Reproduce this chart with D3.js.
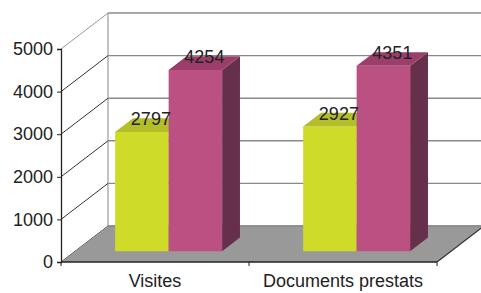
<!DOCTYPE html>
<html>
<head>
<meta charset="utf-8">
<script src="https://cdn.jsdelivr.net/npm/d3@7"></script>
<style>
  body { margin: 0; background: #fff; }
  svg text { font-family: "Liberation Sans", Arial, sans-serif; fill: #222; }
</style>
</head>
<body>
<div id="chart"></div>
<script>
// data
let categories = ["Visites", "Documents prestats"];
let seriesNames = ["serie1", "serie2"];
let serie1 = [2797, 2927];
let serie2 = [4254, 4351];
let yTicks = [0, 1000, 2000, 3000, 4000, 5000];

let frontColors = { serie1: "#cedb28", serie2: "#bb5082" };
let topColors = { serie1: "#b4bd2a", serie2: "#9b3f6a" };
let sideColors = { serie1: "#9aa220", serie2: "#66304a" };

let width = 481, height = 293;
let svg = d3.select("#chart").append("svg")
  .attr("width", width).attr("height", height);

// 3d depth offset (full depth of the box)
let depthX = 47, depthY = -36;
let barFront = 0.3, barBack = 0.68;

let x = d3.scaleBand().domain(categories).range([61, 437]);
let xInner = d3.scaleBand().domain(seriesNames)
  .range([x.bandwidth() * 0.213, x.bandwidth() * 0.782]);
let y = d3.scaleLinear().domain([0, 5000]).range([262, 49]);

let pt = function (px, py, d) {
  return [px + d * depthX, py + d * depthY];
};
let poly = function (pts) {
  return pts.map((p) => p.join(",")).join(" ");
};

//
//	walls
//
let x0 = x.range()[0], x1 = x.range()[1];

// back wall horizontal gridlines
svg.selectAll(".grid").data(yTicks).enter().append("line")
  .attr("x1", (d) => pt(x0, y(d), 1)[0])
  .attr("y1", (d) => pt(x0, y(d), 1)[1])
  .attr("x2", (d) => pt(x1, y(d), 1)[0])
  .attr("y2", (d) => pt(x1, y(d), 1)[1])
  .attr("stroke", "#8a8a8a").attr("stroke-width", 1.4);

// back wall left edge
svg.append("line")
  .attr("x1", pt(x0, y(0), 1)[0]).attr("y1", pt(x0, y(0), 1)[1])
  .attr("x2", pt(x0, y(5000), 1)[0]).attr("y2", pt(x0, y(5000), 1)[1])
  .attr("stroke", "#999").attr("stroke-width", 1.2);

// left wall diagonals
svg.selectAll(".diag").data(yTicks).enter().append("line")
  .attr("x1", x0).attr("y1", (d) => y(d))
  .attr("x2", (d) => pt(x0, y(d), 1)[0])
  .attr("y2", (d) => pt(x0, y(d), 1)[1])
  .attr("stroke", (d) => (d === 5000 ? "#999" : "#333"))
  .attr("stroke-width", 1);

// floor
svg.append("polygon")
  .attr("points", poly([pt(x0, y(0), 0), pt(x0, y(0), 1), pt(x1, y(0), 1), pt(x1, y(0), 0)]))
  .attr("fill", "#999999");
svg.append("line")
  .attr("x1", pt(x0, y(0), 1)[0]).attr("y1", pt(x0, y(0), 1)[1])
  .attr("x2", pt(x1, y(0), 1)[0]).attr("y2", pt(x1, y(0), 1)[1])
  .attr("stroke", "#808080").attr("stroke-width", 1.2);
svg.append("line")
  .attr("x1", x1).attr("y1", y(0))
  .attr("x2", pt(x1, y(0), 1)[0]).attr("y2", pt(x1, y(0), 1)[1])
  .attr("stroke", "#333").attr("stroke-width", 1.2);

//
//	bars
//
let bars = [];
categories.forEach((c, i) => {
  bars.push({ cat: c, serie: "serie1", value: serie1[i] });
  bars.push({ cat: c, serie: "serie2", value: serie2[i] });
});

bars.forEach((b) => {
  let bx0 = x(b.cat) + xInner(b.serie);
  let bx1 = bx0 + xInner.bandwidth();
  let yb = y(0), yt = y(b.value);
  let g = svg.append("g");
  // side
  g.append("polygon")
    .attr("points", poly([pt(bx1, yb, barFront), pt(bx1, yb, barBack), pt(bx1, yt, barBack), pt(bx1, yt, barFront)]))
    .attr("fill", sideColors[b.serie]);
  // front
  g.append("polygon")
    .attr("points", poly([pt(bx0, yb, barFront), pt(bx1, yb, barFront), pt(bx1, yt, barFront), pt(bx0, yt, barFront)]))
    .attr("fill", frontColors[b.serie]);
  // top
  g.append("polygon")
    .attr("points", poly([pt(bx0, yt, barFront), pt(bx1, yt, barFront), pt(bx1, yt, barBack), pt(bx0, yt, barBack)]))
    .attr("fill", topColors[b.serie]);
});

// value labels
svg.selectAll(".val").data(bars).enter().append("text")
  .attr("x", (d) => pt(x(d.cat) + xInner(d.serie) + xInner.bandwidth() / 2, 0, barFront)[0] + 9)
  .attr("y", (d) => pt(0, y(d.value), barFront)[1] - 7)
  .attr("text-anchor", "middle")
  .attr("font-size", 18)
  .text((d) => d.value);

//
//	axes
//
let yAxis = svg.append("g")
  .attr("transform", "translate(" + x0 + ",0)")
  .call(d3.axisLeft(y).tickValues(yTicks).tickSize(4).tickPadding(4).tickFormat(d3.format("d")));
yAxis.selectAll("text").attr("font-size", 18).attr("fill", "#222")
  .style("font-family", "'Liberation Sans', Arial, sans-serif");
yAxis.select(".domain").attr("stroke", "#222").attr("stroke-width", 1.3);
yAxis.selectAll(".tick line").attr("stroke", "#222");

svg.append("line")
  .attr("x1", x0).attr("y1", y(0)).attr("x2", x1).attr("y2", y(0))
  .attr("stroke", "#222").attr("stroke-width", 1.5);
let edges = [x0].concat(categories.map((c) => x(c) + x.bandwidth()));
svg.selectAll(".xtick").data(edges).enter().append("line")
  .attr("x1", (d) => d).attr("x2", (d) => d)
  .attr("y1", y(0)).attr("y2", y(0) + 4)
  .attr("stroke", "#222");
svg.selectAll(".xlab").data(categories).enter().append("text")
  .attr("x", (d) => x(d) + x.bandwidth() / 2)
  .attr("y", 287)
  .attr("text-anchor", "middle")
  .attr("font-size", 18)
  .text((d) => d);
</script>
</body>
</html>
